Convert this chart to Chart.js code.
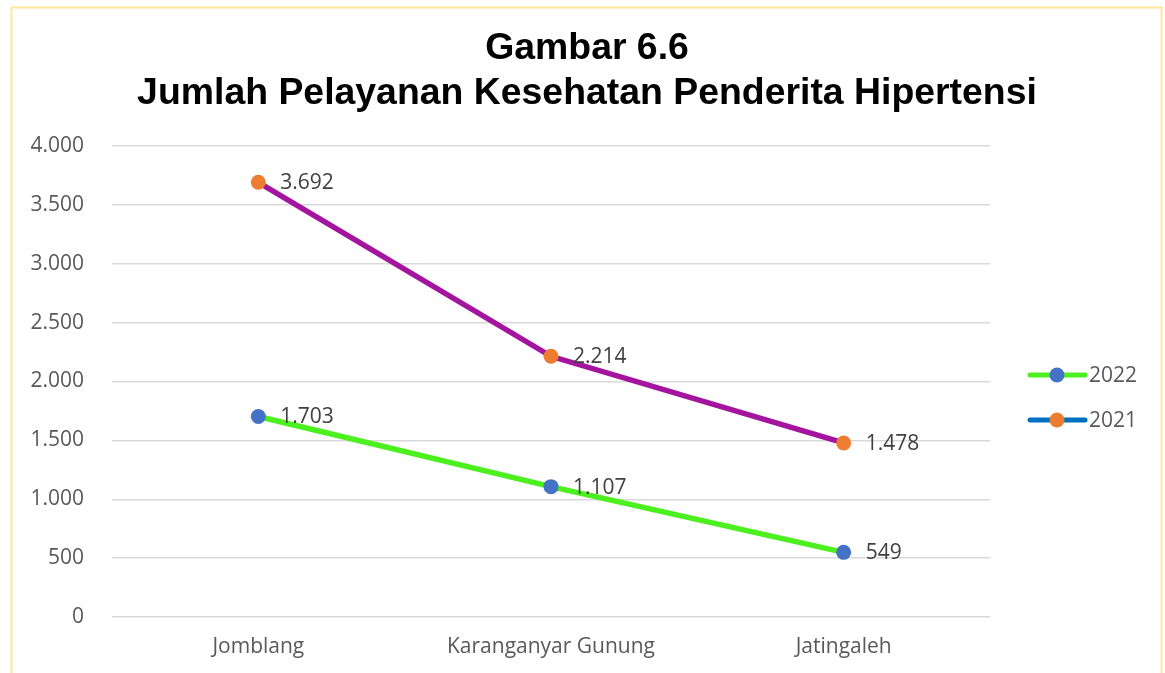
<!DOCTYPE html>
<html>
<head>
<meta charset="utf-8">
<script src="https://cdn.jsdelivr.net/npm/chart.js@4"></script>
<style>
  html, body { margin: 0; padding: 0; background: #fff; }
  #wrap { width: 1165px; height: 673px; }
</style>
</head>
<body>
<div id="wrap"><canvas id="chart" width="1165" height="673"></canvas></div>
<script>
// data
const categories = ['Jomblang', 'Karanganyar Gunung', 'Jatingaleh'];
const values2022 = [1703, 1107, 549];
const values2021 = [3692, 2214, 1478];
const seriesLabels = ['2022', '2021'];
const titleLines = ['Gambar 6.6', 'Jumlah Pelayanan Kesehatan Penderita Hipertensi'];

const FONT = '"Open Sans", "DejaVu Sans", sans-serif';
const TEXT_GREY = '#595959';

// dot as thousands separator: 3692 -> "3.692"
const fmt = (v) => String(v).replace(/\B(?=(\d{3})+(?!\d))/g, '.');

// legend swatch colours differ from the drawn line for 2021 (as in the source)
const legendLineColors = ['#4cf01f', '#0070c0'];

const frame = {
  id: 'frame',
  beforeDraw: (ch) => {
    const { ctx } = ch;
    ctx.save();
    ctx.fillStyle = '#fff';
    ctx.fillRect(0, 0, ch.width, ch.height);
    ctx.strokeStyle = '#ffe699';
    ctx.lineWidth = 2;
    ctx.strokeRect(11.5, 7.5, 1150, 700);
    ctx.restore();
  },
};

// title centred on the whole picture, not just the plot area
const pageTitle = {
  id: 'pageTitle',
  afterDraw: (ch) => {
    const { ctx } = ch;
    ctx.save();
    ctx.font = 'bold 37.4px "Liberation Sans", Arial, sans-serif';
    ctx.fillStyle = '#000';
    ctx.textAlign = 'center';
    ctx.textBaseline = 'middle';
    titleLines.forEach((line, i) => {
      ctx.fillText(line, 587, 49 + i * 45);
    });
    ctx.restore();
  },
};

const valueLabels = {
  id: 'valueLabels',
  afterDatasetsDraw: (ch) => {
    const { ctx } = ch;
    ctx.save();
    ctx.font = `21px ${FONT}`;
    ctx.fillStyle = '#404040';
    ctx.textAlign = 'left';
    ctx.textBaseline = 'middle';
    ch.data.datasets.forEach((ds, di) => {
      ch.getDatasetMeta(di).data.forEach((pt, i) => {
        ctx.fillText(fmt(ds.data[i]), pt.x + 22, pt.y + 1);
      });
    });
    ctx.restore();
  },
};

const sideLegend = {
  id: 'sideLegend',
  afterDraw: (ch) => {
    const { ctx, chartArea } = ch;
    const x0 = chartArea.right + 40;
    let y = chartArea.top + 229;
    ctx.save();
    ch.data.datasets.forEach((ds, i) => {
      ctx.strokeStyle = legendLineColors[i];
      ctx.lineWidth = 5;
      ctx.lineCap = 'round';
      ctx.beginPath();
      ctx.moveTo(x0, y);
      ctx.lineTo(x0 + 55, y);
      ctx.stroke();
      ctx.fillStyle = ds.pointBackgroundColor;
      ctx.beginPath();
      ctx.arc(x0 + 27, y, 7.5, 0, Math.PI * 2);
      ctx.fill();
      ctx.font = `21px ${FONT}`;
      ctx.fillStyle = TEXT_GREY;
      ctx.textAlign = 'left';
      ctx.textBaseline = 'middle';
      ctx.fillText(ds.label, x0 + 59, y + 1);
      y += 45;
    });
    ctx.restore();
  },
};

// eslint-disable-next-line no-undef
new Chart(document.getElementById('chart'), {
  type: 'line',
  data: {
    labels: categories,
    datasets: [{
      label: seriesLabels[0],
      data: values2022,
      borderColor: '#4cf01f',
      pointBackgroundColor: '#4472c4',
      pointBorderColor: '#4472c4',
    },
    {
      label: seriesLabels[1],
      data: values2021,
      borderColor: '#a3149f',
      pointBackgroundColor: '#ed7d31',
      pointBorderColor: '#ed7d31',
    }],
  },
  plugins: [frame, pageTitle, valueLabels, sideLegend],
  options: {
    responsive: false,
    animation: false,
    devicePixelRatio: 1,
    layout: {
      padding: {
        left: 12, right: 175, top: 146, bottom: 0,
      },
    },
    elements: {
      line: { borderWidth: 5.5, tension: 0 },
      point: { radius: 7.5, hoverRadius: 7.5, borderWidth: 0 },
    },
    plugins: {
      legend: { display: false },
      tooltip: { enabled: false },
      title: { display: false },
    },
    scales: {
      x: {
        type: 'category',
        offset: true,
        grid: { display: false, drawTicks: false },
        border: { display: false },
        ticks: {
          color: TEXT_GREY,
          font: { family: FONT, size: 21 },
          padding: 17,
          maxRotation: 0,
        },
        afterFit: (scale) => { scale.height = 56; },
      },
      y: {
        min: 0,
        max: 4000,
        grid: { color: '#d9d9d9', lineWidth: 1.5, drawTicks: false },
        border: { display: false },
        ticks: {
          stepSize: 500,
          color: TEXT_GREY,
          font: { family: FONT, size: 21 },
          padding: 28,
          callback: (value) => fmt(value),
        },
        afterFit: (scale) => { scale.width = 100; },
      },
    },
  },
});
</script>
</body>
</html>
